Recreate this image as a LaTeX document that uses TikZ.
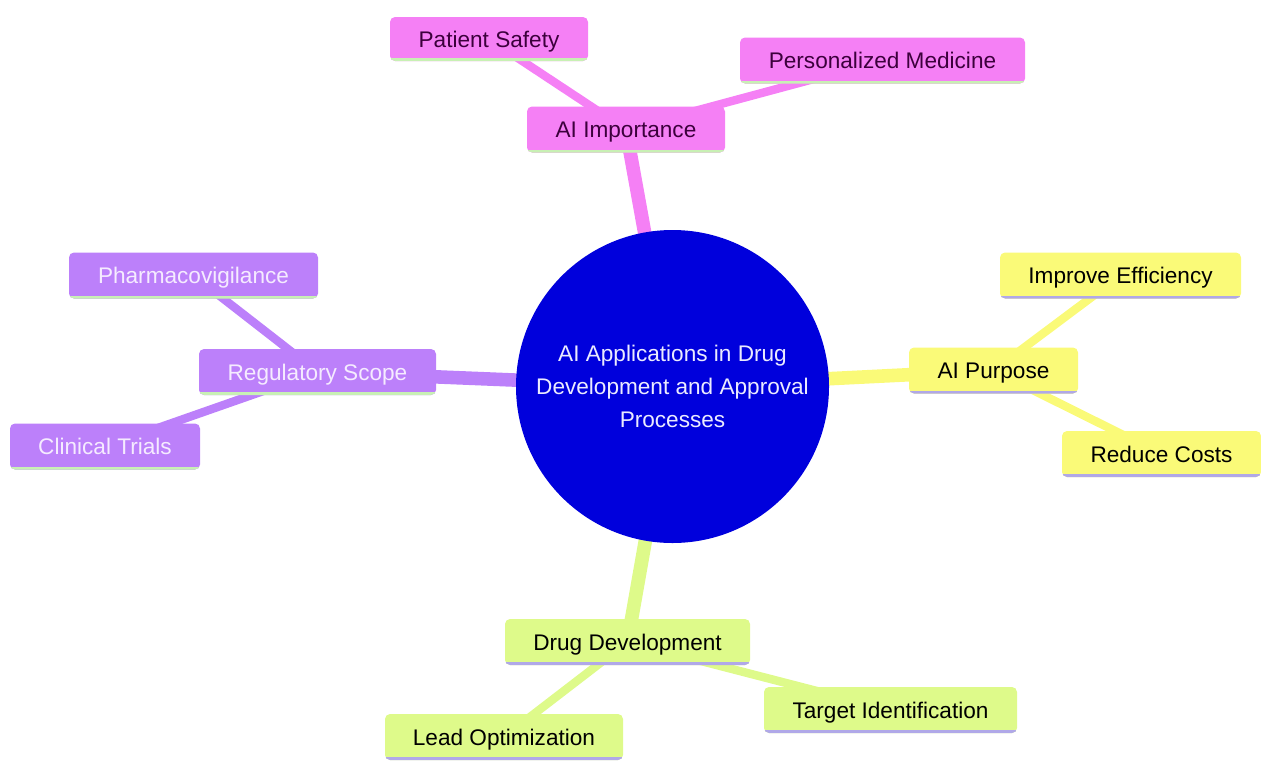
\documentclass[tikz,border=0pt]{standalone}
\usepackage{fontspec}
\setmainfont{Liberation Sans}
\usetikzlibrary{backgrounds}
\definecolor{pinkC}{RGB}{245,128,245}
\definecolor{purpleC}{RGB}{188,128,250}
\definecolor{yellowC}{RGB}{250,250,120}
\definecolor{greenC}{RGB}{222,250,138}
\definecolor{blueC}{RGB}{0,0,220}
\definecolor{edgeGreen}{RGB}{200,240,180}
\definecolor{edgeLav}{RGB}{176,168,232}
\definecolor{pinkText}{RGB}{60,0,60}
\definecolor{purpleText}{RGB}{245,235,255}
\definecolor{centerText}{RGB}{235,235,255}
\tikzset{
  box/.style={rectangle, rounded corners=2.5pt, inner sep=0pt, minimum height=23pt,
    text height=8pt, text depth=0pt,
    font=\fontsize{11.3}{16.5}\selectfont},
  under/.style={path picture={\draw[line width=3pt,#1]
    (path picture bounding box.south west) -- (path picture bounding box.south east);}},
  pinkbox/.style={box, fill=pinkC, text=pinkText, under=edgeGreen},
  purplebox/.style={box, fill=purpleC, text=purpleText, under=edgeGreen},
  yellowbox/.style={box, fill=yellowC, text=black, under=edgeLav},
  greenbox/.style={box, fill=greenC, text=black, under=edgeLav},
  mainedge/.style={line width=6.8pt, #1},
  subedge/.style={line width=4.2pt, #1},
}
\begin{document}
\begin{tikzpicture}[x=0.5pt,y=-0.5pt]
\useasboundingbox (0,0) rectangle (1261,760);
\node[circle, fill=blueC, minimum size=156.5pt, inner sep=0pt, text=centerText, align=center,
  font=\fontsize{11.3}{16.5}\selectfont] (root) at (672.5,386.5)
  {AI Applications in Drug\\Development and Approval\\Processes};

\node[pinkbox, minimum width=99pt] (imp) at (626,129.5) {AI Importance};
\node[pinkbox, minimum width=99pt, minimum height=22pt] (ps) at (489,39) {Patient Safety};
\node[pinkbox, minimum width=142.5pt] (pm) at (882.5,60.5) {Personalized Medicine};

\node[purplebox, minimum width=118.5pt] (reg) at (317.5,372) {Regulatory Scope};
\node[purplebox, minimum width=124.5pt] (pv) at (193.5,275.5) {Pharmacovigilance};
\node[purplebox, minimum width=95pt] (ct) at (105,446.5) {Clinical Trials};

\node[yellowbox, minimum width=84.5pt] (pur) at (993.5,370.5) {AI Purpose};
\node[yellowbox, minimum width=120.5pt] (ie) at (1120.5,275.5) {Improve Efficiency};
\node[yellowbox, minimum width=99.5pt] (rc) at (1161.5,454) {Reduce Costs};

\node[greenbox, minimum width=122.5pt] (dd) at (627.5,642) {Drug Development};
\node[greenbox, minimum width=119pt] (lo) at (504,737) {Lead Optimization};
\node[greenbox, minimum width=126.5pt] (ti) at (890.5,710) {Target Identification};

\begin{pgfonlayer}{background}
\draw[mainedge=pinkC] (root.center) -- (imp.center);
\draw[mainedge=purpleC] (root.center) -- (reg.center);
\draw[mainedge=yellowC] (root.center) -- (pur.center);
\draw[mainedge=greenC] (root.center) -- (dd.center);
\draw[subedge=pinkC] (imp.center) -- (ps.center);
\draw[subedge=pinkC] (imp.center) -- (pm.center);
\draw[subedge=purpleC] (reg.center) -- (pv.center);
\draw[subedge=purpleC] (reg.center) -- (ct.center);
\draw[subedge=yellowC] (pur.center) -- (ie.center);
\draw[subedge=yellowC] (pur.center) -- (rc.center);
\draw[subedge=greenC] (dd.center) -- (lo.center);
\draw[subedge=greenC] (dd.center) -- (ti.center);
\end{pgfonlayer}
\end{tikzpicture}
\end{document}
